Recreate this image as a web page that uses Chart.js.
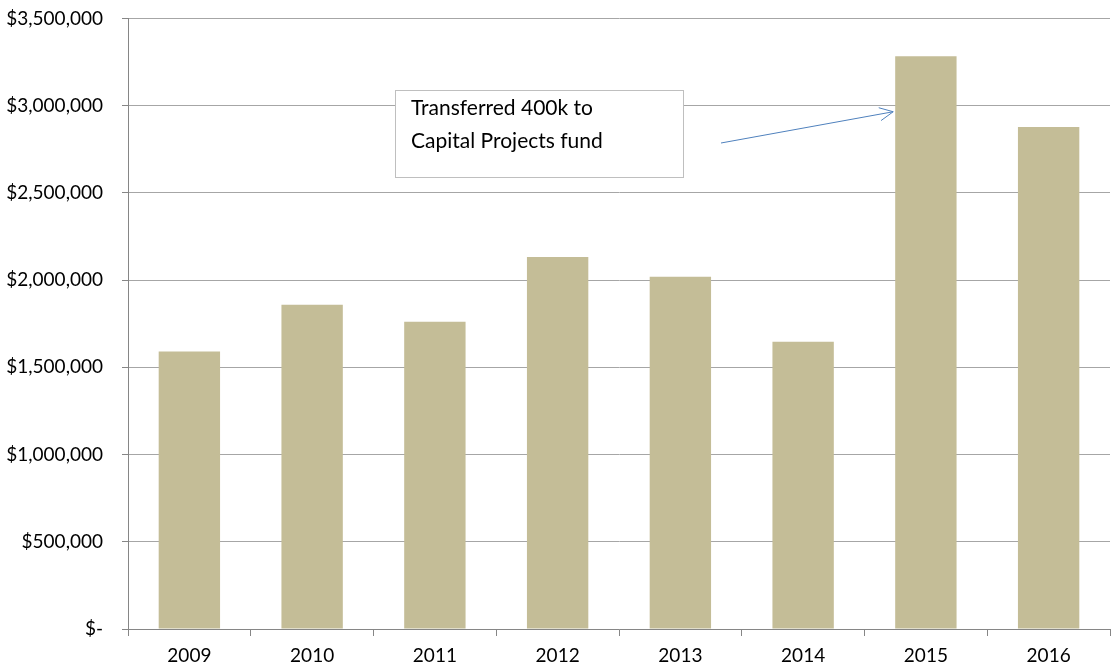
<!DOCTYPE html>
<html>
<head>
<meta charset="utf-8">
<script src="https://cdn.jsdelivr.net/npm/chart.js@4.4.1/dist/chart.umd.min.js"></script>
<style>
html,body{margin:0;padding:0;background:#fff;overflow:hidden;}
#wrap{width:1117px;height:668px;position:relative;overflow:hidden;}
#c{position:absolute;left:0;top:-12px;}
</style>
</head>
<body>
<div id="wrap"><canvas id="c" width="1117" height="680"></canvas></div>
<script>
const categories = ["2009","2010","2011","2012","2013","2014","2015","2016"];
const values = [1590000, 1859000, 1761000, 2133000, 2019000, 1647000, 3283000, 2878000];
const yTicks = [0, 500000, 1000000, 1500000, 2000000, 2500000, 3000000, 3500000];
const noteLines = ["Transferred 400k to", "Capital Projects fund"];
const noteIndex = 6;
const noteValue = 2965000;

const FONT = "Lato, 'Open Sans', sans-serif";
const SHIFT = 12;

function fmt(v){
  if (v === 0) return "$-";
  return "$" + v.toLocaleString("en-US");
}

const notePlugin = {
  id: 'note',
  afterDraw(chart){
    const ctx = chart.ctx;
    const ys = chart.scales.y;
    const meta = chart.getDatasetMeta(0);
    const bar = meta.data[noteIndex];
    const tipX = bar.x - bar.width/2 - 2;
    const tipY = ys.getPixelForValue(noteValue);
    ctx.save();
    const bx = 395, by = 90 + SHIFT, bw = 288, bh = 87;
    ctx.fillStyle = "#ffffff";
    ctx.fillRect(bx, by, bw, bh);
    ctx.strokeStyle = "#bfbfbf";
    ctx.lineWidth = 1;
    ctx.strokeRect(bx + 0.5, by + 0.5, bw, bh);
    ctx.fillStyle = "#000000";
    ctx.font = "21px " + FONT;
    ctx.textBaseline = "middle";
    ctx.textAlign = "left";
    ctx.fillText(noteLines[0], 411, 108 + SHIFT);
    ctx.fillText(noteLines[1], 411, 141 + SHIFT);
    const sx = 721, sy = 143 + SHIFT;
    ctx.strokeStyle = "#4f81bd";
    ctx.lineWidth = 1;
    ctx.beginPath();
    ctx.moveTo(sx, sy);
    ctx.lineTo(tipX, tipY);
    ctx.stroke();
    const ang = Math.atan2(tipY - sy, tipX - sx);
    const L = 15, a = 0.45;
    ctx.beginPath();
    ctx.moveTo(tipX - L*Math.cos(ang - a), tipY - L*Math.sin(ang - a));
    ctx.lineTo(tipX, tipY);
    ctx.lineTo(tipX - L*Math.cos(ang + a), tipY - L*Math.sin(ang + a));
    ctx.stroke();
    ctx.restore();
  }
};

new Chart(document.getElementById('c'), {
  type: 'bar',
  data: {
    labels: categories,
    datasets: [{
      data: values,
      backgroundColor: '#c4bd97',
      borderWidth: 0,
      barPercentage: 1.0,
      categoryPercentage: 0.5
    }]
  },
  options: {
    responsive: false,
    animation: false,
    devicePixelRatio: 1,
    layout: { autoPadding: false, padding: { left: 0, right: 7, top: 5, bottom: 0 } },
    plugins: { legend: { display: false }, tooltip: { enabled: false } },
    scales: {
      y: {
        min: 0, max: 3500000,
        afterBuildTicks(s){ s.ticks = yTicks.map(v => ({value: v})); },
        afterFit(s){ s.width = 128; },
        border: { display: true, color: '#868686', width: 1 },
        grid: { color: '#a6a6a6', lineWidth: 1, drawTicks: true, tickLength: 6, tickColor: '#868686' },
        ticks: {
          callback: (v) => fmt(v),
          font: { family: FONT, size: 19 },
          color: '#000000',
          padding: 19
        }
      },
      x: {
        afterFit(s){ s.height = 39; },
        border: { display: true, color: '#868686', width: 1 },
        grid: { offset: true, drawOnChartArea: false, drawTicks: true, tickLength: 7, color: '#868686' },
        ticks: {
          font: { family: FONT, size: 19 },
          color: '#000000',
          padding: 8,
          maxRotation: 0
        }
      }
    }
  },
  plugins: [notePlugin]
});
</script>
</body>
</html>
